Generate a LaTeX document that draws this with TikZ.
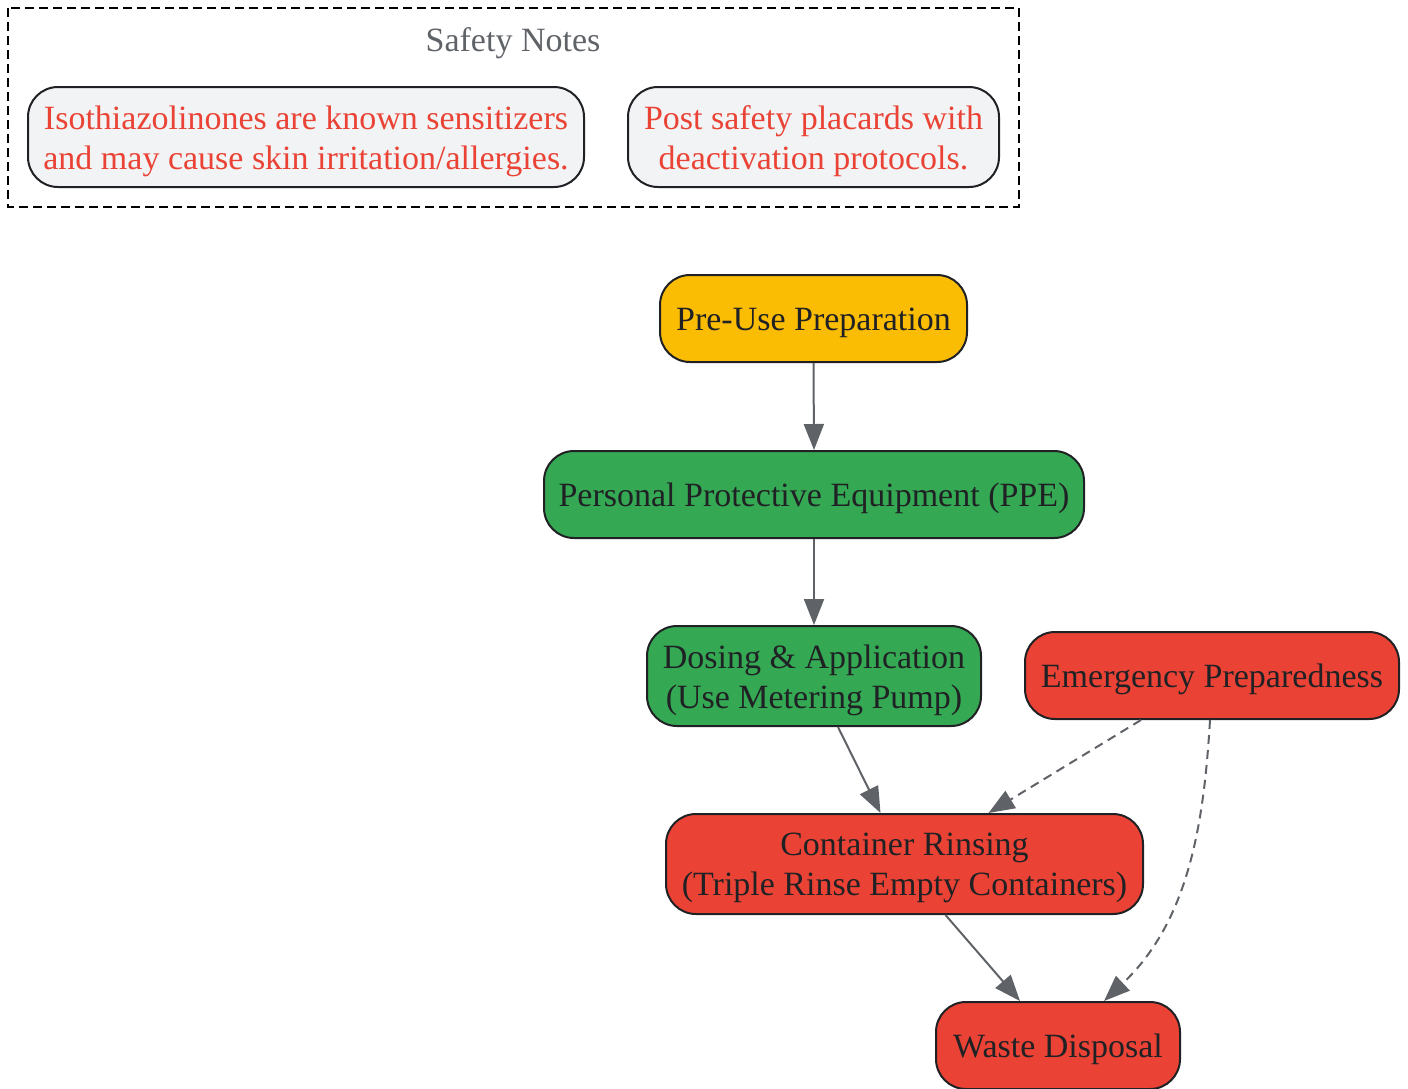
\documentclass[tikz,border=0pt]{standalone}
\usepackage{fontspec}
\setmainfont{Liberation Serif}
\usetikzlibrary{arrows.meta,calc}
\definecolor{ink}{HTML}{202124}
\definecolor{edgegray}{HTML}{5F6368}
\definecolor{gyellow}{HTML}{FBBC04}
\definecolor{ggreen}{HTML}{34A853}
\definecolor{gred}{HTML}{EA4335}
\definecolor{notefill}{HTML}{F1F3F4}
\tikzset{
  box/.style={draw=ink, line width=2pt, rounded corners=30pt, inner sep=0pt},
  lbl/.style={align=center, inner sep=0pt, text=ink, font=\fontsize{34}{40}\selectfont},
  arr/.style={draw=edgegray, line width=2pt, -{Triangle[length=26pt,width=20pt]}},
  darr/.style={arr, dash pattern=on 9pt off 6pt},
}
% name, position, width, height, fill, text colour, text
\newcommand\mybox[7]{%
  \node[box, fill=#5, minimum width=#3, minimum height=#4] (#1) at (#2) {};
  \node[lbl, text=#6] (#1-t) at ([yshift=-4pt]#1.center) {#7};
}
\begin{document}
\begin{tikzpicture}[x=1pt,y=-1pt]
\useasboundingbox (0,0) rectangle (1408,1088);
% group
\draw[black, line width=2pt, dash pattern=on 9pt off 5pt] (8,8) rectangle (1019,207);
\node[lbl, text=edgegray] (gt) at (513,43) {Safety Notes};
\mybox{n1}{306,137}{556pt}{100pt}{notefill}{gred}{Isothiazolinones are known sensitizers\\and may cause skin irritation/allergies.}
\mybox{n2}{813.5,137}{371pt}{100pt}{notefill}{gred}{Post safety placards with\\deactivation protocols.}
% nodes
\mybox{pre}{813.5,318.5}{307pt}{87pt}{gyellow}{ink}{Pre-Use Preparation}
\mybox{ppe}{814,494.5}{540pt}{87pt}{ggreen}{ink}{Personal Protective Equipment (PPE)}
\mybox{dos}{814,676}{334pt}{100pt}{ggreen}{ink}{Dosing \& Application\\(Use Metering Pump)}
\mybox{emg}{1212,675.5}{374pt}{87pt}{gred}{ink}{Emergency Preparedness}
\mybox{cont}{904.5,864}{477pt}{100pt}{gred}{ink}{Container Rinsing\\(Triple Rinse Empty Containers)}
\mybox{waste}{1058,1045.5}{244pt}{87pt}{gred}{ink}{Waste Disposal}
% edges
\draw[arr] (pre.south) -- (ppe.north);
\draw[arr] (ppe.south) -- (dos.north);
\draw[arr] ([xshift=24pt]dos.south) -- ([xshift=-24pt]cont.north);
\draw[darr] ([xshift=-71pt]emg.south) -- ([xshift=84pt]cont.north);
\draw[arr] ([xshift=41pt]cont.south) -- ([xshift=-38pt]waste.north);
\draw[darr] ([xshift=-2pt]emg.south) .. controls (1204,820) and (1190,920) .. ([xshift=46pt]waste.north);
\end{tikzpicture}
\end{document}
